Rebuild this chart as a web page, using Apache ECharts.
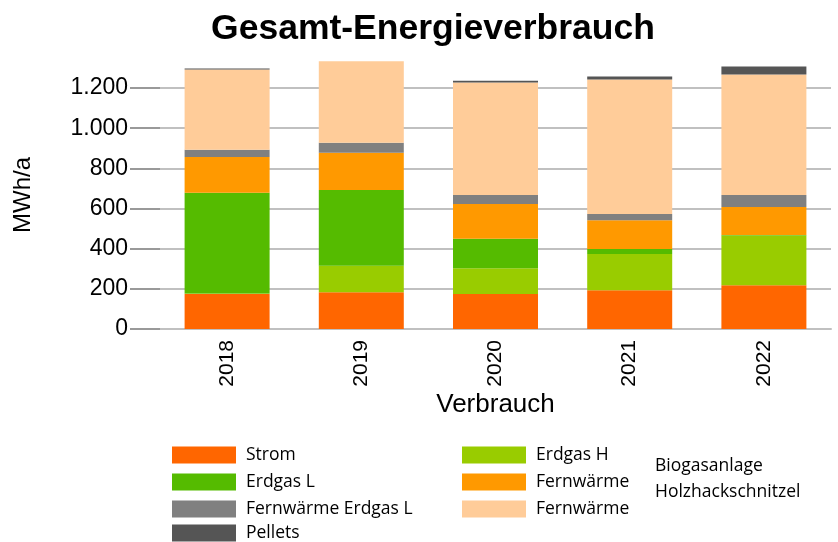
<!DOCTYPE html>
<html>
<head>
<meta charset="UTF-8">
<title>Gesamt-Energieverbrauch</title>
<script type="text/javascript" src="https://cdn.jsdelivr.net/npm/echarts@6/dist/echarts.min.js"></script>
<style>
	html, body { margin: 0; padding: 0; background: #fff; }
</style>
</head>
<body>
	<div id="chart" style="width: 838px; height: 542px;"></div>

	<script type="text/javascript">
	// Jahre (Kategorien)
	var years = ['2018', '2019', '2020', '2021', '2022'];

	// Verbrauch in MWh/a, von unten nach oben gestapelt
	var strom        = [174, 183, 174, 193, 218];
	var erdgasH      = [3, 132, 129, 180, 247];
	var erdgasL      = [501, 377, 147, 25, 3];
	var fwBiogas     = [179, 186, 172, 144, 139];
	var fwErdgasL    = [35, 49, 45, 31, 60];
	var fwHolz       = [400, 406, 561, 669, 600];
	var pellets      = [5, 0, 8, 15, 40];

	var yTicks = [0, 200, 400, 600, 800, 1000, 1200];

	var chart = echarts.init(document.getElementById('chart'));

	function bar(name, data, color) {
		return {
			name: name,
			type: 'bar',
			stack: 'gesamt',
			barWidth: 85,
			clip: false,
			data: data,
			itemStyle: { color: color }
		};
	}

	var legendFont = { fontFamily: 'Open Sans', fontSize: 17.5, color: '#000', padding: [0, 0, 0, 5] };

	// Legenden-Spalte
	function legendCol(left, top, names) {
		return {
			orient: 'vertical',
			left: left, top: top,
			itemWidth: 64, itemHeight: 17, itemGap: 9,
			icon: 'rect',
			textStyle: legendFont,
			formatter: function (n) { return n.indexOf('Fernwärme ') === 0 && n !== 'Fernwärme Erdgas L' ? 'Fernwärme' : n; },
			data: names
		};
	}

	var option = {
		animation: false,
		title: {
			text: 'Gesamt-Energieverbrauch',
			left: 428,
			textAlign: 'center',
			top: 6,
			textStyle: { fontFamily: 'Liberation Sans', fontWeight: 'bold', fontSize: 35.5, color: '#000' }
		},
		grid: { left: 160, right: 7, top: 88, bottom: 213 },
		legend: [
			legendCol(167, 441, ['Strom', 'Erdgas L', 'Fernwärme Erdgas L']),
			legendCol(167, 519, ['Pellets']),
			legendCol(457, 441, ['Erdgas H', 'Fernwärme Biogasanlage', 'Fernwärme Holzhackschnitzel'])
		],
		graphic: [
			{ type: 'text', left: 655, top: 457, style: { text: 'Biogasanlage', font: '17.5px "Open Sans"', fill: '#000' } },
			{ type: 'text', left: 655, top: 483, style: { text: 'Holzhackschnitzel', font: '17.5px "Open Sans"', fill: '#000' } },
			{ type: 'text', x: 23, y: 195, rotation: Math.PI / 2,
			  style: { text: 'MWh/a', font: '24px "Liberation Sans"', fill: '#000', align: 'center', verticalAlign: 'middle' } }
		],
		xAxis: {
			type: 'category',
			data: years,
			name: 'Verbrauch',
			nameLocation: 'middle',
			nameGap: 63,
			nameTextStyle: { fontFamily: 'Liberation Sans', fontSize: 26, color: '#000' },
			axisLine: { lineStyle: { color: '#c0c0c0', width: 2 } },
			axisTick: { alignWithLabel: true, length: 8, lineStyle: { color: '#777', width: 2 } },
			axisLabel: { rotate: 90, margin: 11, fontFamily: 'Liberation Sans', fontSize: 21, color: '#000' }
		},
		yAxis: {
			type: 'value',
			min: 0, max: 1200, interval: 200,
			axisLine: { show: false },
			axisTick: { show: true, length: 30, lineStyle: { color: '#999', width: 2 } },
			axisLabel: {
				margin: 32, fontFamily: 'Liberation Sans', fontSize: 23, color: '#000',
				formatter: function (v) { return yTicks.indexOf(v) < 0 ? '' : String(v).replace(/\B(?=(\d{3})+(?!\d))/g, '.'); }
			},
			splitLine: { lineStyle: { color: '#c0c0c0', width: 2 } }
		},
		series: [
			bar('Strom', strom, '#ff6600'),
			bar('Erdgas H', erdgasH, '#99cc00'),
			bar('Erdgas L', erdgasL, '#55bb00'),
			bar('Fernwärme Biogasanlage', fwBiogas, '#ff9900'),
			bar('Fernwärme Erdgas L', fwErdgasL, '#808080'),
			bar('Fernwärme Holzhackschnitzel', fwHolz, '#ffcc99'),
			bar('Pellets', pellets, '#555555')
		]
	};

	chart.setOption(option);
	</script>
</body>
</html>
